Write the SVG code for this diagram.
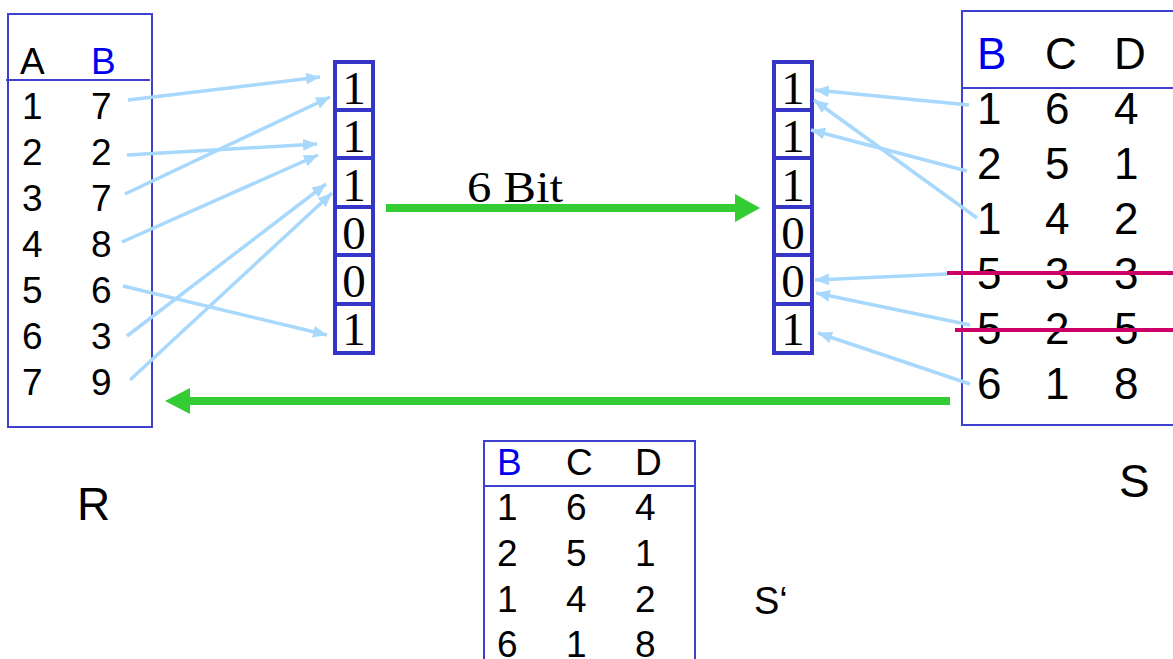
<svg xmlns="http://www.w3.org/2000/svg" width="1173" height="659" viewBox="0 0 1173 659">
<defs>
<style>
.tbl{fill:none;stroke:#3f3fd0;stroke-width:2}
.bits{fill:none;stroke:#3535c8;stroke-width:4}
.sans{font-family:"Liberation Sans",Arial,sans-serif;fill:#000}
.blue{fill:#0000ee}
.bit{font-family:"Liberation Serif","Times New Roman",serif;font-size:47px;text-anchor:middle;fill:#000}
.conn{stroke:#a8d8fb;stroke-width:3.5;fill:none;marker-end:url(#ah)}
.strike{stroke:#cc0066;stroke-width:4}
.green{stroke:#33cc33;stroke-width:8}
</style>
<marker id="ah" markerUnits="userSpaceOnUse" markerWidth="16" markerHeight="14" refX="14" refY="6" orient="auto">
<path d="M0,0 L14,6 L0,12 z" fill="#a8d8fb"/>
</marker>
</defs>

<g id="R">
<rect class="tbl" x="8" y="14" width="144" height="413"/>
<line class="tbl" x1="6" y1="80" x2="150" y2="80"/>
<g class="sans" font-size="37">
<text x="20" y="74">A</text><text x="91" y="74" class="blue">B</text>
<text x="22" y="119">1</text><text x="91" y="119">7</text>
<text x="22" y="165">2</text><text x="91" y="165">2</text>
<text x="22" y="211">3</text><text x="91" y="211">7</text>
<text x="22" y="257">4</text><text x="91" y="257">8</text>
<text x="22" y="303">5</text><text x="91" y="303">6</text>
<text x="22" y="349">6</text><text x="91" y="349">3</text>
<text x="22" y="395">7</text><text x="91" y="395">9</text>
</g>
</g>

<g id="R_label"><text class="sans" x="77" y="520" font-size="46">R</text></g>

<g id="bitsL">
<rect class="bits" x="335" y="62" width="38" height="291"/>
<line class="bits" x1="335" y1="110" x2="373" y2="110"/>
<line class="bits" x1="335" y1="158" x2="373" y2="158"/>
<line class="bits" x1="335" y1="207" x2="373" y2="207"/>
<line class="bits" x1="335" y1="255" x2="373" y2="255"/>
<line class="bits" x1="335" y1="304" x2="373" y2="304"/>
<text class="bit" x="354" y="104">1</text>
<text class="bit" x="354" y="152">1</text>
<text class="bit" x="354" y="201">1</text>
<text class="bit" x="354" y="249">0</text>
<text class="bit" x="354" y="297">0</text>
<text class="bit" x="354" y="345">1</text>
</g>

<g id="bitsR">
<rect class="bits" x="774" y="62" width="38" height="291"/>
<line class="bits" x1="774" y1="110" x2="812" y2="110"/>
<line class="bits" x1="774" y1="158" x2="812" y2="158"/>
<line class="bits" x1="774" y1="207" x2="812" y2="207"/>
<line class="bits" x1="774" y1="255" x2="812" y2="255"/>
<line class="bits" x1="774" y1="304" x2="812" y2="304"/>
<text class="bit" x="793" y="104">1</text>
<text class="bit" x="793" y="152">1</text>
<text class="bit" x="793" y="201">1</text>
<text class="bit" x="793" y="249">0</text>
<text class="bit" x="793" y="297">0</text>
<text class="bit" x="793" y="345">1</text>
</g>

<g id="S">
<rect class="tbl" x="962" y="11" width="212" height="414"/>
<line class="tbl" x1="962" y1="88" x2="1173" y2="88"/>
<g class="sans" font-size="44">
<text x="977" y="69" class="blue">B</text><text x="1045" y="69">C</text><text x="1114" y="69">D</text>
<text x="977" y="124">1</text><text x="1045" y="124">6</text><text x="1114" y="124">4</text>
<text x="977" y="179">2</text><text x="1045" y="179">5</text><text x="1114" y="179">1</text>
<text x="977" y="234">1</text><text x="1045" y="234">4</text><text x="1114" y="234">2</text>
<text x="977" y="289">5</text><text x="1045" y="289">3</text><text x="1114" y="289">3</text>
<text x="977" y="344">5</text><text x="1045" y="344">2</text><text x="1114" y="344">5</text>
<text x="977" y="399">6</text><text x="1045" y="399">1</text><text x="1114" y="399">8</text>
</g>
<line class="strike" x1="947" y1="273" x2="1173" y2="273"/>
<line class="strike" x1="955" y1="330" x2="1173" y2="330"/>
</g>

<g id="S_label"><text class="sans" x="1119" y="497" font-size="46">S</text></g>

<g id="Sprime">
<rect class="tbl" x="484" y="441" width="211" height="230"/>
<line class="tbl" x1="484" y1="486" x2="695" y2="486"/>
<g class="sans" font-size="37">
<text x="497" y="475" class="blue">B</text><text x="566" y="475">C</text><text x="635" y="475">D</text>
<text x="497" y="520">1</text><text x="566" y="520">6</text><text x="635" y="520">4</text>
<text x="497" y="566">2</text><text x="566" y="566">5</text><text x="635" y="566">1</text>
<text x="497" y="612">1</text><text x="566" y="612">4</text><text x="635" y="612">2</text>
<text x="497" y="657">6</text><text x="566" y="657">1</text><text x="635" y="657">8</text>
</g>
</g>

<g id="Sprime_label"><text class="sans" x="754" y="614" font-size="38">S‘</text></g>

<g id="six_bit_label"><text x="467" y="202" font-family="'Liberation Serif','Times New Roman',serif" font-size="44" textLength="96" lengthAdjust="spacingAndGlyphs">6 Bit</text></g>

<g id="connectors">
<line class="conn" x1="128" y1="100" x2="320" y2="77"/>
<line class="conn" x1="125" y1="194" x2="330" y2="97"/>
<line class="conn" x1="127" y1="155" x2="317" y2="144"/>
<line class="conn" x1="122" y1="242" x2="318" y2="155"/>
<line class="conn" x1="123" y1="286" x2="327" y2="335"/>
<line class="conn" x1="127" y1="336" x2="326" y2="184"/>
<line class="conn" x1="130" y1="380" x2="332" y2="193"/>

<line class="conn" x1="969" y1="105" x2="815" y2="90"/>
<line class="conn" x1="967" y1="171" x2="811" y2="130"/>
<line class="conn" x1="977" y1="218" x2="814" y2="100"/>
<line class="conn" x1="947" y1="274" x2="815" y2="280"/>
<line class="conn" x1="970" y1="325" x2="816" y2="293"/>
<line class="conn" x1="970" y1="384" x2="818" y2="333"/>

<line class="green" x1="386" y1="208" x2="738" y2="208"/>
<polygon points="760,208 735,194 735,222" fill="#33cc33"/>
<line class="green" x1="188" y1="401" x2="950" y2="401"/>
<polygon points="165,401 190,388 190,414" fill="#33cc33"/>
</g>
</svg>
